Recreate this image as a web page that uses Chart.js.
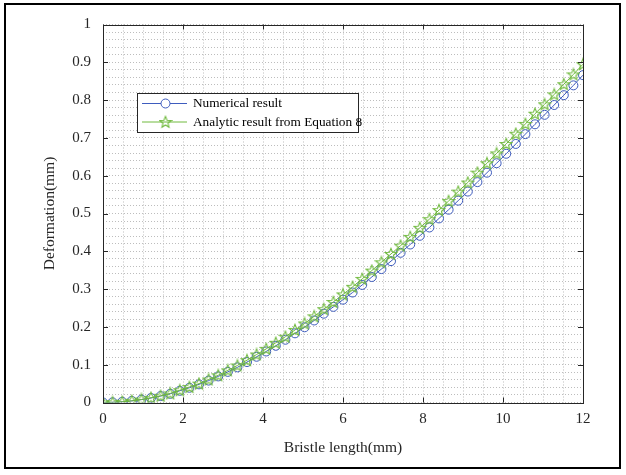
<!DOCTYPE html>
<html>
<head>
<meta charset="utf-8">
<script src="https://cdn.jsdelivr.net/npm/chart.js@4.4.1/dist/chart.umd.min.js"></script>
<style>
  html, body { margin: 0; padding: 0; background: #fff; }
  canvas { display: block; }
</style>
</head>
<body>
<canvas id="deformChart" width="626" height="475"></canvas>
<script>
// Longitud de cerdas (mm)
const bristleLength = [0, 0.24, 0.48, 0.72, 0.96, 1.2, 1.44, 1.68, 1.92, 2.16, 2.4, 2.64, 2.88, 3.12, 3.36, 3.6, 3.84,
  4.08, 4.32, 4.56, 4.8, 5.04, 5.28, 5.52, 5.76, 6.0, 6.24, 6.48, 6.72, 6.96, 7.2, 7.44, 7.68, 7.92, 8.16, 8.4,
  8.64, 8.88, 9.12, 9.36, 9.6, 9.84, 10.08, 10.32, 10.56, 10.8, 11.04, 11.28, 11.52, 11.76, 12.0];

// Resultado numérico (mm)
const numericalResult = [0, 0.0005, 0.0019, 0.0043, 0.0076, 0.012, 0.017, 0.023, 0.031, 0.039, 0.048, 0.058, 0.069,
  0.081, 0.093, 0.107, 0.121, 0.135, 0.150, 0.166, 0.183, 0.199, 0.217, 0.235, 0.253, 0.272, 0.291, 0.311, 0.332,
  0.353, 0.374, 0.396, 0.418, 0.441, 0.463, 0.487, 0.510, 0.534, 0.558, 0.583, 0.608, 0.633, 0.658, 0.684, 0.710,
  0.736, 0.761, 0.787, 0.813, 0.839, 0.866];

// Resultado analítico, ecuación 8 (mm)
const analyticResult = [0, 0.0005, 0.002, 0.0045, 0.008, 0.0125, 0.0178, 0.024, 0.0325, 0.041, 0.050, 0.061, 0.072,
  0.085, 0.098, 0.112, 0.127, 0.142, 0.158, 0.174, 0.192, 0.209, 0.228, 0.247, 0.266, 0.286, 0.306, 0.327, 0.349,
  0.371, 0.393, 0.415, 0.438, 0.462, 0.485, 0.509, 0.533, 0.558, 0.582, 0.608, 0.633, 0.659, 0.684, 0.711, 0.737,
  0.764, 0.789, 0.815, 0.842, 0.868, 0.895];

const seriesLabels = ['Numerical result', 'Analytic result from Equation 8'];
const xTickLabels = ['0', '2', '4', '6', '8', '10', '12'];
const yTickLabels = ['0', '0.1', '0.2', '0.3', '0.4', '0.5', '0.6', '0.7', '0.8', '0.9', '1'];

const BLUE = 'rgb(62, 92, 190)';
const GREEN = 'rgb(112, 186, 62)';
const AXIS = '#262626';
const GRID = '#bdbdbd';
const FONT = "'Liberation Serif', 'Times New Roman', serif";

// marcador estrella (pentagrama) como en MATLAB
function makeStar(color) {
  const c = document.createElement('canvas');
  c.width = 14; c.height = 14;
  const g = c.getContext('2d');
  g.strokeStyle = color;
  g.lineWidth = 1.1;
  g.beginPath();
  for (let i = 0; i < 10; i++) {
    const r = i % 2 === 0 ? 6 : 2.6;
    const a = -Math.PI / 2 + i * Math.PI / 5;
    const px = 7 + r * Math.cos(a), py = 7.4 + r * Math.sin(a);
    if (i === 0) g.moveTo(px, py); else g.lineTo(px, py);
  }
  g.closePath();
  g.stroke();
  return c;
}
const starImg = makeStar(GREEN);

function isMajor(v, step) {
  const q = v / step;
  return Math.abs(q - Math.round(q)) < 1e-6;
}

// Marco, ejes tipo caja, marcas hacia dentro y leyenda
const matlabLook = {
  id: 'matlabLook',
  beforeDraw(chart) {
    const ctx = chart.ctx;
    ctx.save();
    ctx.fillStyle = '#fff';
    ctx.fillRect(0, 0, chart.width, chart.height);
    ctx.restore();
  },
  afterDatasetsDraw(chart) {
    const ctx = chart.ctx;
    const a = chart.chartArea;
    const xs = chart.scales.x, ys = chart.scales.y;
    ctx.save();
    // caja de ejes
    ctx.strokeStyle = AXIS;
    ctx.lineWidth = 1;
    ctx.strokeRect(Math.round(a.left) + 0.5, Math.round(a.top) + 0.5,
      Math.round(a.right - a.left), Math.round(a.bottom - a.top));
    // marcas
    const tl = 5;
    ctx.beginPath();
    xTickLabels.forEach(t => {
      const px = Math.round(xs.getPixelForValue(Number(t))) + 0.5;
      ctx.moveTo(px, a.bottom); ctx.lineTo(px, a.bottom - tl);
      ctx.moveTo(px, a.top); ctx.lineTo(px, a.top + tl);
    });
    yTickLabels.forEach(t => {
      const py = Math.round(ys.getPixelForValue(Number(t))) + 0.5;
      ctx.moveTo(a.left, py); ctx.lineTo(a.left + tl, py);
      ctx.moveTo(a.right, py); ctx.lineTo(a.right - tl, py);
    });
    ctx.stroke();

    // leyenda
    const lx = 137.5, ly = 93.5, lw = 221, lh = 39;
    ctx.fillStyle = '#fff';
    ctx.fillRect(lx, ly, lw, lh);
    ctx.strokeStyle = AXIS;
    ctx.strokeRect(lx, ly, lw, lh);
    const rows = [103, 121.5];
    ctx.font = '13.3px ' + FONT;
    ctx.textBaseline = 'middle';
    ctx.textAlign = 'left';
    rows.forEach((ry, i) => {
      ctx.strokeStyle = i === 0 ? BLUE : GREEN;
      ctx.beginPath();
      ctx.moveTo(142, ry + 0.5); ctx.lineTo(187, ry + 0.5);
      ctx.stroke();
      if (i === 0) {
        ctx.beginPath();
        ctx.arc(165.5, ry + 0.5, 4.5, 0, Math.PI * 2);
        ctx.fillStyle = '#fff';
        ctx.fill();
        ctx.stroke();
      } else {
        ctx.drawImage(starImg, 165.5 - 7, ry + 0.5 - 7);
      }
      ctx.fillStyle = '#000';
      ctx.fillText(seriesLabels[i], 193, ry + 1);
    });

    // marco exterior de la figura
    ctx.strokeStyle = '#000';
    ctx.lineWidth = 2;
    ctx.strokeRect(5, 4, 615, 464);
    ctx.restore();
  }
};

new Chart(document.getElementById('deformChart'), {
  type: 'line',
  data: {
    datasets: [{
      label: seriesLabels[0],
      data: bristleLength.map((x, i) => ({ x: x, y: numericalResult[i] })),
      borderColor: BLUE,
      borderWidth: 1,
      pointStyle: 'circle',
      pointRadius: 4.5,
      pointBorderWidth: 1,
      pointBorderColor: BLUE,
      pointBackgroundColor: 'rgba(0,0,0,0)',
      tension: 0,
      order: 1
    }, {
      label: seriesLabels[1],
      data: bristleLength.map((x, i) => ({ x: x, y: analyticResult[i] })),
      borderColor: GREEN,
      borderWidth: 1,
      pointStyle: starImg,
      pointRadius: 6,
      tension: 0,
      order: 0
    }]
  },
  options: {
    responsive: false,
    animation: false,
    devicePixelRatio: 1,
    layout: { padding: { left: 0, top: 24.5, right: 43, bottom: 0 } },
    plugins: {
      legend: { display: false },
      tooltip: { enabled: false }
    },
    scales: {
      x: {
        type: 'linear',
        min: 0, max: 12,
        afterFit: s => { s.height = 72.5; },
        border: { display: false, dash: [1, 2] },
        grid: { color: GRID, lineWidth: 1, drawTicks: false },
        ticks: {
          stepSize: 0.5,
          autoSkip: false,
          maxRotation: 0,
          padding: 8,
          color: '#262626',
          font: { family: FONT, size: 15 },
          callback: v => isMajor(v, 2) ? String(v) : ''
        },
        title: {
          display: true,
          text: 'Bristle length(mm)',
          color: '#262626',
          font: { family: FONT, size: 15.5 },
          padding: { top: 0, bottom: 18 }
        }
      },
      y: {
        type: 'linear',
        min: 0, max: 1,
        afterFit: s => { s.width = 103; },
        border: { display: false, dash: [1, 2] },
        grid: { color: GRID, lineWidth: 1, drawTicks: false },
        ticks: {
          stepSize: 0.02,
          autoSkip: false,
          padding: 12,
          color: '#262626',
          font: { family: FONT, size: 15 },
          callback: v => isMajor(v, 0.1) ? String(Math.round(v * 10) / 10) : ''
        },
        title: {
          display: true,
          text: 'Deformation(mm)',
          color: '#262626',
          font: { family: FONT, size: 15.5 },
          padding: { top: 41, bottom: 0 }
        }
      }
    }
  },
  plugins: [matlabLook]
});
</script>
</body>
</html>
